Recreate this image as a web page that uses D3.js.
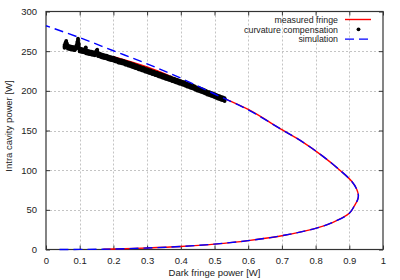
<!DOCTYPE html>
<html>
<head>
<meta charset="utf-8">
<script src="https://cdn.jsdelivr.net/npm/d3@7"></script>
<style>
  body { margin: 0; background: #fff; }
  svg { display: block; font-family: "Liberation Sans", Arial, sans-serif; }
</style>
</head>
<body>
<div id="chart"></div>
<script>
// tick values
var xTicks = [0, 0.1, 0.2, 0.3, 0.4, 0.5, 0.6, 0.7, 0.8, 0.9, 1];
var yTicks = [0, 50, 100, 150, 200, 250, 300];

// simulation (blue dashed)
var simDark  = [0.04, 0.1, 0.2, 0.3, 0.4, 0.5, 0.6, 0.7, 0.8, 0.85, 0.9, 0.915, 0.925, 0.927, 0.922, 0.907, 0.872, 0.82, 0.76, 0.7, 0.6, 0.5, 0.4, 0.3, 0.2, 0.1, 0];
var simPower = [0, 0.1, 0.6, 1.9, 3.8, 6.8, 11.2, 17.4, 26.7, 34, 45.6, 55, 63, 68, 76, 86, 100, 118, 136, 151, 176, 196, 216, 234, 250.5, 267, 282];

// measured fringe (red)
var measDark  = [0.17, 0.2, 0.3, 0.4, 0.5, 0.6, 0.7, 0.8, 0.85, 0.9, 0.915, 0.925, 0.927, 0.922, 0.907, 0.872, 0.82, 0.76, 0.7, 0.6, 0.5, 0.4, 0.3, 0.2];
var measPower = [0.4, 0.6, 1.9, 3.8, 6.8, 11.2, 17.4, 26.7, 34, 45.6, 55, 63, 68, 76, 86, 100, 118, 136, 151, 176.5, 195.5, 213, 230, 243];

// curvature compensation (black dots)
var compDark  = [0.055, 0.058, 0.06, 0.062, 0.065, 0.07, 0.075, 0.08, 0.085, 0.09, 0.093, 0.095, 0.097, 0.1, 0.105, 0.11, 0.115, 0.118, 0.12, 0.125, 0.13, 0.135, 0.14, 0.145, 0.15, 0.152, 0.155, 0.16, 0.165, 0.17, 0.175, 0.18, 0.185, 0.19, 0.195, 0.2,
                 0.205, 0.21, 0.215, 0.22, 0.225, 0.23, 0.235, 0.24, 0.245, 0.25, 0.255, 0.26, 0.265, 0.27, 0.275, 0.28, 0.285, 0.29, 0.295, 0.3,
                 0.305, 0.31, 0.315, 0.32, 0.325, 0.33, 0.335, 0.34, 0.345, 0.35, 0.355, 0.36, 0.365, 0.37, 0.375, 0.38, 0.385, 0.39, 0.395, 0.4,
                 0.405, 0.41, 0.415, 0.42, 0.425, 0.43, 0.435, 0.44, 0.445, 0.45, 0.455, 0.46, 0.465, 0.47, 0.475, 0.48, 0.485, 0.49, 0.495, 0.5,
                 0.505, 0.51, 0.515, 0.52, 0.525, 0.53];
var compPower = [256, 259, 261, 258, 255, 254.5, 254, 253.5, 253, 255, 260, 264, 258, 251.5, 251, 250.5, 250, 253, 249, 248.5, 248, 247.5, 247, 246.5, 249, 250, 245.5, 245, 244, 243.5, 243, 242.5, 241.5, 241, 240.5, 240,
                 239, 238.5, 237.5, 237, 236.5, 236, 235, 234.5, 233.5, 233, 232, 231.5, 230.5, 230, 229, 228.5, 227.5, 227, 226, 225.5,
                 224.5, 224, 223, 222.5, 221.5, 221, 220, 219.5, 218.5, 218, 217, 216.5, 215.5, 215, 214, 213.5, 212.5, 212, 211, 210.5,
                 209.5, 209, 208, 207, 206.5, 205.5, 205, 204, 203, 202, 201.5, 200.5, 200, 199, 198, 197, 196.5, 195.5, 195, 194,
                 193, 192, 191.5, 190.5, 190, 189];
// band half-width of the dot cloud (W)
var compSpread = [-1.8, 0, 1.8];

var width = 400, height = 280;
var margin = {top: 11.5, right: 17, bottom: 30.5, left: 46};

var svg = d3.select('#chart').append('svg')
  .attr('width', width)
  .attr('height', height);

var x = d3.scaleLinear().domain([0, 1]).range([margin.left, width - margin.right]);
var y = d3.scaleLinear().domain([0, 300]).range([height - margin.bottom, margin.top]);

function px(v) { return Math.round(v) + 0.5; }

//grid lines
var grid = svg.append('g')
  .attr('stroke', '#c4c4c4')
  .attr('stroke-width', 1)
  .attr('stroke-dasharray', '2,2');
grid.selectAll('.gx').data(xTicks.slice(1, -1)).enter().append('line')
  .attr('x1', function(d) { return px(x(d)); })
  .attr('x2', function(d) { return px(x(d)); })
  .attr('y1', y(0)).attr('y2', y(300));
grid.selectAll('.gy').data(yTicks.slice(1, -1)).enter().append('line')
  .attr('y1', function(d) { return px(y(d)); })
  .attr('y2', function(d) { return px(y(d)); })
  .attr('x1', x(0)).attr('x2', x(1));

//axes with inward ticks, mirrored
var fmtX = function(d) { return d3.format('')(+d.toFixed(1)); };
svg.append('g').attr('transform', 'translate(0,' + y(0) + ')')
  .call(d3.axisBottom(x).tickValues(xTicks).tickSizeInner(-4).tickSizeOuter(0).tickPadding(8).tickFormat(fmtX));
svg.append('g').attr('transform', 'translate(0,' + y(300) + ')')
  .call(d3.axisTop(x).tickValues(xTicks).tickSizeInner(-4).tickSizeOuter(0).tickFormat(''));
svg.append('g').attr('transform', 'translate(' + x(0) + ',0)')
  .call(d3.axisLeft(y).tickValues(yTicks).tickSizeInner(-4).tickSizeOuter(0).tickPadding(9));
svg.append('g').attr('transform', 'translate(' + x(1) + ',0)')
  .call(d3.axisRight(y).tickValues(yTicks).tickSizeInner(-4).tickSizeOuter(0).tickFormat(''));

svg.selectAll('.domain').remove();
svg.selectAll('.tick line').attr('stroke', '#333');
svg.selectAll('.tick text')
  .attr('font-family', '"Liberation Sans", Arial, sans-serif')
  .attr('font-size', '9.5px')
  .attr('fill', '#222');

//plot border
svg.append('rect')
  .attr('x', x(0)).attr('y', y(300))
  .attr('width', x(1) - x(0)).attr('height', y(0) - y(300))
  .attr('fill', 'none')
  .attr('stroke', '#333')
  .attr('stroke-width', 1.2);

var line = d3.line()
  .x(function(d) { return x(d[0]); })
  .y(function(d) { return y(d[1]); })
  .curve(d3.curveCatmullRom.alpha(0.5));

//measured fringe
svg.append('path')
  .datum(d3.zip(measDark, measPower))
  .attr('d', line)
  .attr('fill', 'none')
  .attr('stroke', '#ff0000')
  .attr('stroke-width', 1.4);

//curvature compensation
var dots = [];
compDark.forEach(function(d, i) {
  compSpread.forEach(function(s) { dots.push([d, compPower[i] + s]); });
});
svg.append('g').selectAll('circle').data(dots).enter().append('circle')
  .attr('cx', function(d) { return x(d[0]); })
  .attr('cy', function(d) { return y(d[1]); })
  .attr('r', 1.9)
  .attr('fill', '#000');

//simulation
svg.append('path')
  .datum(d3.zip(simDark, simPower))
  .attr('d', line)
  .attr('fill', 'none')
  .attr('stroke', '#0000ff')
  .attr('stroke-width', 1.4)
  .attr('stroke-dasharray', '9,5');

//legend
var legendItems = ['measured fringe', 'curvature compensation', 'simulation'];
var legend = svg.append('g');
legendItems.forEach(function(name, i) {
  var cy = 19.5 + i * 9.8;
  legend.append('text')
    .attr('x', 338).attr('y', cy + 3.2)
    .attr('text-anchor', 'end')
    .attr('font-size', '8.8px')
    .attr('fill', '#222')
    .text(name);
  if (i === 0) {
    legend.append('line').attr('x1', 345).attr('x2', 371).attr('y1', cy).attr('y2', cy)
      .attr('stroke', '#ff0000').attr('stroke-width', 1.4);
  } else if (i === 1) {
    legend.append('circle').attr('cx', 358.5).attr('cy', cy).attr('r', 1.9).attr('fill', '#000');
  } else {
    legend.append('line').attr('x1', 345).attr('x2', 371).attr('y1', cy).attr('y2', cy)
      .attr('stroke', '#0000ff').attr('stroke-width', 1.4).attr('stroke-dasharray', '9,5');
  }
});

//axis titles
svg.append('text')
  .attr('x', (x(0) + x(1)) / 2).attr('y', 276)
  .attr('text-anchor', 'middle')
  .attr('font-size', '9.5px')
  .attr('fill', '#222')
  .text('Dark fringe power [W]');
svg.append('text')
  .attr('transform', 'translate(11.5,126) rotate(-90)')
  .attr('text-anchor', 'middle')
  .attr('font-size', '9.5px')
  .attr('fill', '#222')
  .text('Intra cavity power [W]');
</script>
</body>
</html>
